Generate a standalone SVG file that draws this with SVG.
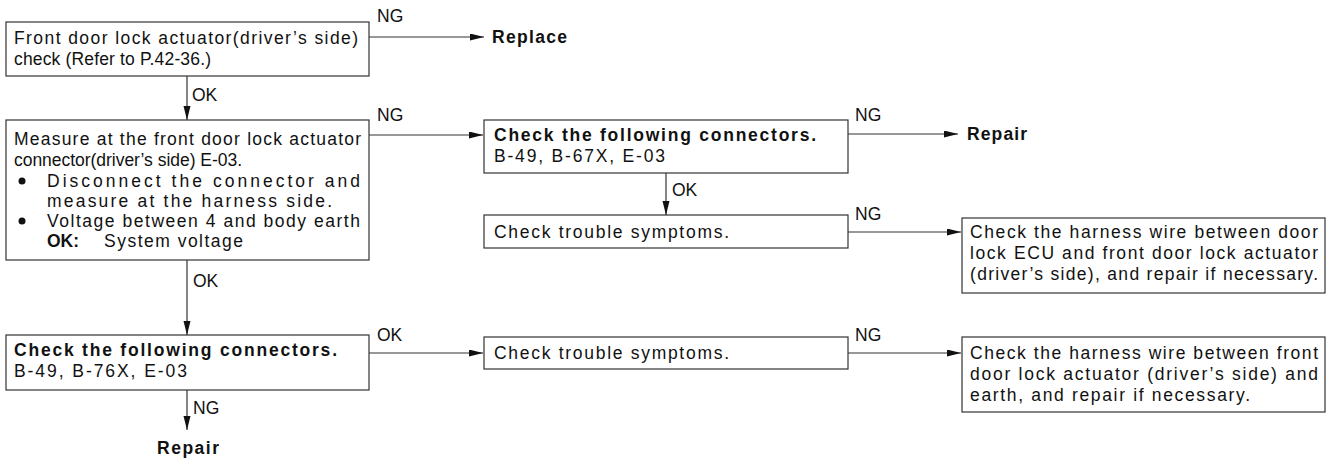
<svg xmlns="http://www.w3.org/2000/svg" width="1330" height="462" viewBox="0 0 1330 462">
<style>
  .box { fill: #ffffff; stroke: #333333; stroke-width: 1.2; }
  .t { font-family: "Liberation Sans", Arial, sans-serif; font-size: 17.5px; fill: #111111; }
  .b { font-weight: bold; }
  .lbl { font-family: "Liberation Sans", Arial, sans-serif; font-size: 17.5px; fill: #111111; }
  .ln { fill: none; stroke: #333333; stroke-width: 1.2; }
  .arw { marker-end: url(#ah); }
</style>
<defs>
  <marker id="ah" markerUnits="userSpaceOnUse" markerWidth="15" markerHeight="8" refX="14" refY="3.5" orient="auto">
    <path d="M0,0 L14,3.5 L0,7 z" fill="#111111"/>
  </marker>
</defs>
<rect width="1330" height="462" fill="#ffffff"/>

<g id="connectors">
  <line class="ln arw" x1="369" y1="37" x2="484" y2="37"/>
  <text class="lbl" x="377" y="22">NG</text>
  <line class="ln arw" x1="187" y1="76" x2="187" y2="120"/>
  <text class="lbl" x="192" y="101">OK</text>
  <line class="ln arw" x1="369" y1="135" x2="483" y2="135"/>
  <text class="lbl" x="377" y="121">NG</text>
  <line class="ln arw" x1="848" y1="134" x2="958" y2="134"/>
  <text class="lbl" x="855" y="121">NG</text>
  <line class="ln arw" x1="666" y1="173" x2="666" y2="215"/>
  <text class="lbl" x="672" y="196">OK</text>
  <line class="ln arw" x1="848" y1="232" x2="961" y2="232"/>
  <text class="lbl" x="855" y="220">NG</text>
  <line class="ln arw" x1="187" y1="260" x2="187" y2="335"/>
  <text class="lbl" x="193" y="287">OK</text>
  <line class="ln arw" x1="369" y1="353" x2="483" y2="353"/>
  <text class="lbl" x="377" y="341">OK</text>
  <line class="ln arw" x1="848" y1="353" x2="961" y2="353"/>
  <text class="lbl" x="855" y="341">NG</text>
  <line class="ln arw" x1="187" y1="390" x2="187" y2="430"/>
  <text class="lbl" x="193" y="414">NG</text>
</g>

<g id="replace1">
  <text class="t b" x="492" y="43" textLength="75" lengthAdjust="spacing">Replace</text>
</g>

<g id="check-actuator">
  <rect class="box" x="6" y="22" width="363" height="54"/>
  <text class="t" x="14" y="44" textLength="344" lengthAdjust="spacing">Front door lock actuator(driver’s side)</text>
  <text class="t" x="14" y="65" textLength="197" lengthAdjust="spacing">check (Refer to P.42-36.)</text>
</g>

<g id="measure">
  <rect class="box" x="6" y="120" width="363" height="140"/>
  <text class="t" x="14" y="145" textLength="347" lengthAdjust="spacing">Measure at the front door lock actuator</text>
  <text class="t" x="14" y="166" textLength="228" lengthAdjust="spacing">connector(driver’s side) E-03.</text>
  <circle cx="22" cy="181" r="3.5" fill="#111111"/>
  <text class="t" x="47" y="187" textLength="313" lengthAdjust="spacing">Disconnect the connector and</text>
  <text class="t" x="47" y="207" textLength="285" lengthAdjust="spacing">measure at the harness side.</text>
  <circle cx="22" cy="221" r="3.5" fill="#111111"/>
  <text class="t" x="47" y="227" textLength="313" lengthAdjust="spacing">Voltage between 4 and body earth</text>
  <text class="t b" x="47" y="247">OK:</text>
  <text class="t" x="104" y="247" textLength="139" lengthAdjust="spacing">System voltage</text>
</g>

<g id="check-connectors-1">
  <rect class="box" x="484" y="120" width="364" height="53"/>
  <text class="t b" x="494" y="141" textLength="322" lengthAdjust="spacing">Check the following connectors.</text>
  <text class="t" x="494" y="162" textLength="171" lengthAdjust="spacing">B-49, B-67X, E-03</text>
</g>

<g id="repair1">
  <text class="t b" x="967" y="140" textLength="60" lengthAdjust="spacing">Repair</text>
</g>

<g id="symptoms-1">
  <rect class="box" x="484" y="215" width="364" height="33"/>
  <text class="t" x="494" y="238" textLength="235" lengthAdjust="spacing">Check trouble symptoms.</text>
</g>

<g id="harness-ecu">
  <rect class="box" x="962" y="218" width="363" height="75"/>
  <text class="t" x="970" y="238" textLength="348" lengthAdjust="spacing">Check the harness wire between door</text>
  <text class="t" x="970" y="259" textLength="348" lengthAdjust="spacing">lock ECU and front door lock actuator</text>
  <text class="t" x="970" y="280" textLength="348" lengthAdjust="spacing">(driver’s side), and repair if necessary.</text>
</g>

<g id="check-connectors-2">
  <rect class="box" x="6" y="335" width="363" height="55"/>
  <text class="t b" x="14" y="356" textLength="323" lengthAdjust="spacing">Check the following connectors.</text>
  <text class="t" x="14" y="377" textLength="173" lengthAdjust="spacing">B-49, B-76X, E-03</text>
</g>

<g id="repair2">
  <text class="t b" x="157" y="454" textLength="62" lengthAdjust="spacing">Repair</text>
</g>

<g id="symptoms-2">
  <rect class="box" x="484" y="337" width="364" height="32"/>
  <text class="t" x="494" y="359" textLength="235" lengthAdjust="spacing">Check trouble symptoms.</text>
</g>

<g id="harness-earth">
  <rect class="box" x="962" y="337" width="363" height="75"/>
  <text class="t" x="970" y="359" textLength="348" lengthAdjust="spacing">Check the harness wire between front</text>
  <text class="t" x="970" y="380" textLength="348" lengthAdjust="spacing">door lock actuator (driver’s side) and</text>
  <text class="t" x="970" y="401" textLength="280" lengthAdjust="spacing">earth, and repair if necessary.</text>
</g>
</svg>
